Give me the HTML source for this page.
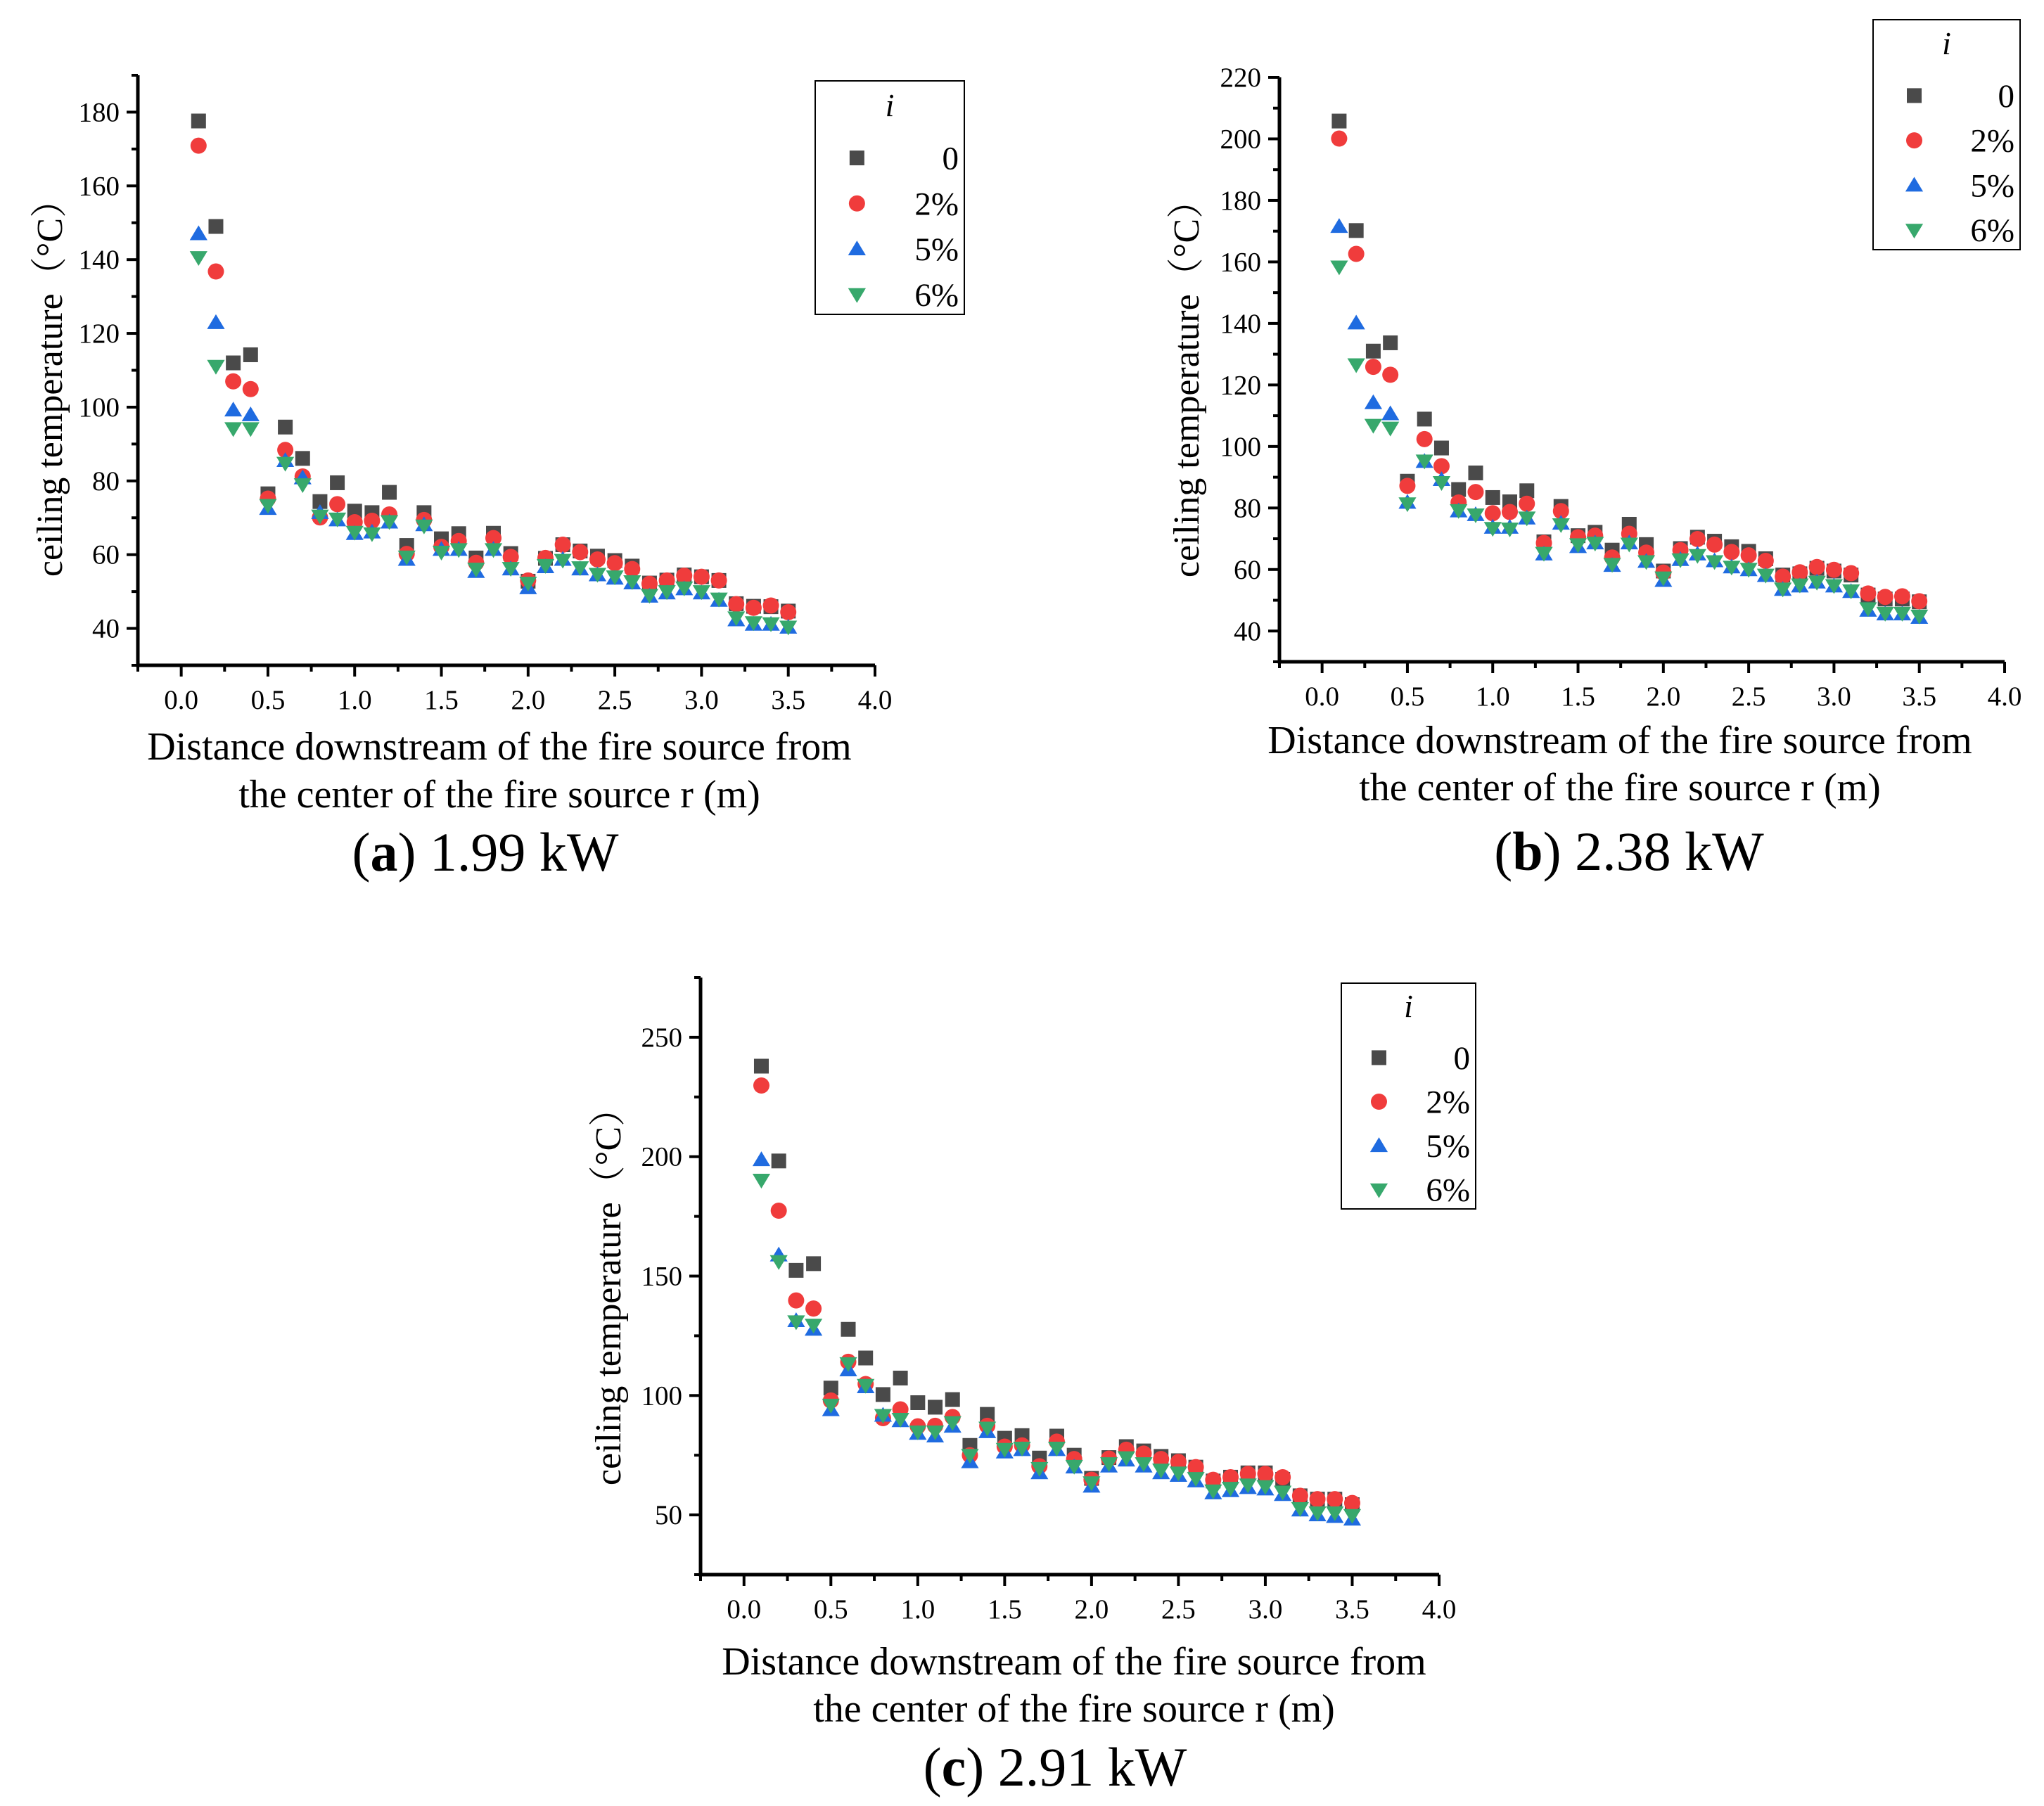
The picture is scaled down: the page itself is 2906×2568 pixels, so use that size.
<!DOCTYPE html>
<html><head><meta charset="utf-8"><style>
html,body{margin:0;padding:0;background:#fff}
svg{display:block}
text{font-family:"Liberation Serif","Noto Serif CJK SC",serif;fill:#000}
</style></head><body>
<svg id="fig" width="2906" height="2568" viewBox="0 0 2906 2568" xmlns="http://www.w3.org/2000/svg"></svg>
<script>
const xVals=[0.1,0.2,0.3,0.4,0.5,0.6,0.7,0.8,0.9,1.0,1.1,1.2,1.3,1.4,1.5,1.6,1.7,1.8,1.9,2.0,2.1,2.2,2.3,2.4,2.5,2.6,2.7,2.8,2.9,3.0,3.1,3.2,3.3,3.4,3.5];
const seriesNames=["0","2%","5%","6%"];
const xTickLabels=["0.0","0.5","1.0","1.5","2.0","2.5","3.0","3.5","4.0"];
// chart a 1.99 kW
const a0=[177.6,149,112,114.2,76.5,94.6,86.1,74.4,79.5,71.8,71.4,76.9,62.5,71.4,64.3,65.7,59.1,65.8,60.3,52.8,59,62.7,61,59.6,58.4,56.9,52.3,53.1,54.5,54,53,46.7,46,45.9,44.7];
const a2=[170.9,136.8,107,104.9,75.2,88.4,81.2,70.1,73.7,68.8,69.2,70.9,60.2,69.4,62.1,63.7,57.8,64.5,59.4,53,59.1,62.7,60.7,58.7,57.7,56.1,52.1,53,54.3,54,53,46.6,45.6,46.2,44.4];
const a5=[147,122.9,99.2,97.9,72.5,85.5,80.8,71.4,69.4,65.7,66.1,68.8,58.7,68.1,61.4,61.4,55.4,61.4,56.1,51,56.7,58.7,56.1,54.5,53.6,52.3,48.7,49.6,50.7,49.6,47.6,42.3,41.1,41.1,40.3];
const a6=[140.6,111.1,94.2,94.2,73.4,84.8,79,70.5,69.7,66.1,65.7,69,59.4,67.8,60.7,61.4,56.1,61.4,56.3,52.3,57.1,58.5,56.5,54.7,54,52.7,49,50,51,50,48,42.9,41.6,41.3,40.4];
const aYTicks=[40,60,80,100,120,140,160,180];
// chart b 2.38 kW
const b0=[205.8,170.2,131,133.7,88.7,108.9,99.5,86,91.4,83.4,82,85.6,69,80.5,71,72.1,66.3,74.7,68.1,59.5,66.8,70.5,69.2,67.4,65.9,63.5,58.2,58.6,60.4,59.5,58.2,51.7,50.4,50.4,49.5];
const b2=[200.1,162.6,125.9,123.3,87.2,102.4,93.6,81.8,85.2,78.3,78.7,81.4,68.6,79,70.5,71,63.9,71.6,65.5,59,66.3,69.9,68.1,65.7,64.6,62.8,57.7,59.1,60.8,59.9,58.8,52.2,51.1,51.3,49.7];
const b5=[171.5,140.1,114.2,110.6,81.8,95.1,89.2,79,77.8,73.7,73.7,76.7,65,75,67.4,68.6,61.3,68.6,62.6,56.4,63.2,65,62.8,60.8,59.9,58,53.5,54.6,55.9,54.6,52.8,46.7,45.5,45.5,44.4];
const b6=[158.4,126.6,106.9,106,81.4,95.3,88.3,79.2,77.8,73.4,73.2,76.8,65.3,74.6,68.1,68.6,61.7,68.3,62.6,57.3,63.2,64.6,62.6,60.8,60.1,58.2,53.7,55,55.9,54.8,53.1,47.3,45.8,45.8,44.9];
const bYTicks=[40,60,80,100,120,140,160,180,200,220];
// chart c 2.91 kW
const c0=[237.9,198.2,152.4,155.2,103.1,127.7,115.7,100.4,107.3,97,95.1,98.3,79.1,92.1,82.1,83.2,73.8,83,75,65.3,74,78.6,76.8,74.5,72.7,70,64.2,65.8,67.6,67.6,64.9,58,56.6,56.6,54.3];
const c2=[229.8,177.4,139.8,136.4,97.9,114.1,104.8,90.5,94.2,87.1,87.3,91,75,87.3,78.6,79.1,70.4,80.7,73.4,64.7,73.6,77.3,75.7,73.4,72.2,70,64.7,65.8,67.2,67.2,65.8,58,56.6,56.6,55];
const c5=[198.7,158.8,131.3,127.7,94,110.7,103.6,91.7,89.4,84.1,83,87.1,72.2,84.8,76.3,77.3,67.6,77.3,70,62,70.4,72.9,70.4,67.6,66.5,64.2,59.2,60.1,61.4,60.8,58.5,52,50,49.3,48.2];
const c6=[190.2,156.1,130.9,129.5,96,113.4,104.3,91.7,90.1,84.8,84.8,88.7,75,86.4,77.5,78,69.5,78,70.4,63.5,71.5,74,71.5,68.8,67.6,65.3,60.1,61.2,62.6,61.9,59.6,52.7,50.9,50.9,49.8];
const cYTicks=[50,100,150,200,250];

const NS="http://www.w3.org/2000/svg";
const svg=document.getElementById("fig");
const COLORS=["#4a4a4a","#f03c3c","#1f6be0","#37a86c"];
function mk(tag,attrs,parent){const e=document.createElementNS(NS,tag);for(const k in attrs)e.setAttribute(k,attrs[k]);(parent||svg).appendChild(e);return e;}
function marker(g,kind,cx,cy,s){
  let e;
  if(kind===0){e=mk("rect",{x:cx-s/2,y:cy-s/2,width:s,height:s,fill:COLORS[0]},g);}
  else if(kind===1){e=mk("circle",{cx:cx,cy:cy,r:s/2+1,fill:COLORS[1]},g);}
  else if(kind===2){const h=s*0.95;e=mk("polygon",{points:`${cx},${cy-h*0.6} ${cx-s*0.6},${cy+h*0.45} ${cx+s*0.6},${cy+h*0.45}`,fill:COLORS[2]},g);}
  else {const h=s*0.95;e=mk("polygon",{points:`${cx},${cy+h*0.6} ${cx-s*0.6},${cy-h*0.45} ${cx+s*0.6},${cy-h*0.45}`,fill:COLORS[3]},g);}
  return e;
}
function chart(cfg){
  const g=mk("g",{});
  
  
  const X=v=>cfg.x0+(v-(-0.25))*(cfg.x1-cfg.x0)/4.25;
  const Y=v=>cfg.yb+(cfg.ymin-v)*(cfg.yb-cfg.yt)/(cfg.ymax-cfg.ymin);
  const ax=mk("path",{d:`M${cfg.x0},${cfg.yt} L${cfg.x0},${cfg.yb} L${cfg.x1},${cfg.yb}`,stroke:"#000","stroke-width":5,fill:"none"},g);
  
  
  for(let v=-0.25;v<=4.001;v+=0.25){
    const major=Math.abs(v*2-Math.round(v*2))<1e-6;
    mk("line",{x1:X(v),x2:X(v),y1:cfg.yb,y2:cfg.yb+(major?16:9),stroke:"#000","stroke-width":4},g);
  }
  xTickLabels.forEach((lab,i)=>{
    const t=mk("text",{x:X(i*0.5),y:cfg.yb+62,"font-size":39,"text-anchor":"middle"},g);t.textContent=lab;
    
    
  });
  const step=cfg.yticks[1]-cfg.yticks[0];
  for(let v=cfg.ymin;v<=cfg.ymax+1e-6;v+=step/2){
    const major=cfg.yticks.includes(Math.round(v*10)/10);
    mk("line",{x1:cfg.x0,x2:cfg.x0-(major?16:9),y1:Y(v),y2:Y(v),stroke:"#000","stroke-width":4},g);
  }
  cfg.yticks.forEach(v=>{
    const t=mk("text",{x:cfg.x0-26,y:Y(v)+13,"font-size":39,"text-anchor":"end"},g);t.textContent=v;
    
    
  });
  const yt=mk("text",{x:0,y:0,"font-size":52,"text-anchor":"middle",transform:`translate(${cfg.ytx},${cfg.yty}) rotate(-90)`},g);
  yt.textContent="ceiling temperature（°C）";
  
  
  const l1=mk("text",{x:cfg.xtx,y:cfg.xty1,"font-size":56,"text-anchor":"middle"},g);
  l1.textContent="Distance downstream of the fire source from";
  
  
  const l2=mk("text",{x:cfg.xtx,y:cfg.xty2,"font-size":56,"text-anchor":"middle"},g);
  l2.textContent="the center of the fire source r (m)";
  
  
  const st=mk("text",{x:cfg.stx,y:cfg.sty,"font-size":78,"text-anchor":"middle"},g);
  st.innerHTML=`(<tspan font-weight="bold">${cfg.letter}</tspan>) ${cfg.power}`;
  
  
  cfg.data.forEach((arr,k)=>{
    const sg=mk("g",{},g);
    
    
    arr.forEach((v,i)=>{
      const m=marker(sg,k,X(xVals[i]),Y(v),21);
      
      
    });
  });
  const L=cfg.leg;
  const lg=mk("g",{},g);
  
  
  mk("rect",{x:L.x,y:L.y,width:L.w,height:L.h,fill:"#fff",stroke:"#000","stroke-width":2},lg);
  const ti=mk("text",{x:L.x+L.w/2,y:L.y+L.h*0.15,"font-size":46,"font-style":"italic","text-anchor":"middle"},lg);ti.textContent="i";
  
  
  seriesNames.forEach((nm,k)=>{
    const cy=L.y+L.h*(0.33+k*0.195);
    const e=mk("g",{},lg);
    
    
    marker(e,k,L.x+L.w*0.28,cy,21);
    const t=mk("text",{x:L.x+L.w-8,y:cy+16,"font-size":47,"text-anchor":"end"},e);t.textContent=nm;
  });
}
chart({name:"chart-a",x0:196,x1:1244,yt:107,yb:946,ymin:30,ymax:190,yticks:aYTicks,data:[a0,a2,a5,a6],
  ytx:88,yty:539,xtx:710,xty1:1080,xty2:1148,stx:690,sty:1238,letter:"a",power:"1.99 kW",
  leg:{x:1159,y:115,w:212,h:332}});
chart({name:"chart-b",x0:1819,x1:2850,yt:110,yb:941,ymin:30,ymax:220,yticks:bYTicks,data:[b0,b2,b5,b6],
  ytx:1704,yty:540,xtx:2303,xty1:1071,xty2:1138,stx:2316,sty:1237,letter:"b",power:"2.38 kW",
  leg:{x:2663,y:28,w:209,h:327}});
chart({name:"chart-c",x0:996,x1:2046,yt:1390,yb:2239,ymin:25,ymax:275,yticks:cYTicks,data:[c0,c2,c5,c6],
  ytx:882,yty:1831,xtx:1527,xty1:2381,xty2:2448,stx:1500,sty:2539,letter:"c",power:"2.91 kW",
  leg:{x:1907,y:1398,w:191,h:321}});
</script>
</body></html>
